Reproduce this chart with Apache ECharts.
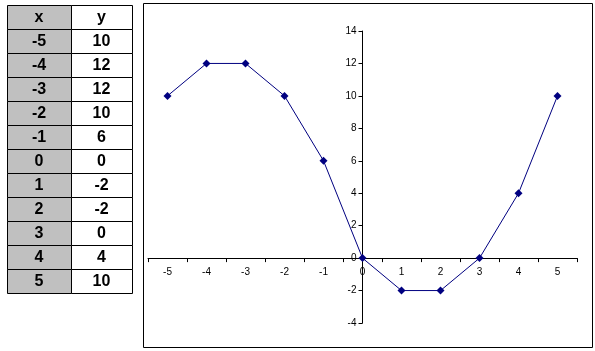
<!DOCTYPE html>
<html>
<head>
<meta charset="utf-8">
<script src="https://cdn.jsdelivr.net/npm/echarts@6/dist/echarts.min.js"></script>
<style>
html,body{margin:0;padding:0;background:#fff;}
#c{width:595px;height:351px;}
</style>
</head>
<body>
<div id="c"></div>
<script>
const xValues = ['-5','-4','-3','-2','-1','0','1','2','3','4','5'];
const yValues = [10, 12, 12, 10, 6, 0, -2, -2, 0, 4, 10];
const tableHeader = ['x', 'y'];
const yMin = -4, yMax = 14, yStep = 2;

const W = 595, H = 351;
const gridL = 148, gridR = 18, gridT = 31, gridB = 28;
const gridW = W - gridL - gridR, gridH = H - gridT - gridB;
// axes cross at x = 0 (category index of '0') and y = 0
const zeroIdx = xValues.indexOf('0');
const yAxisOffset = -gridW * (zeroIdx + 0.5) / xValues.length;
const xAxisOffset = -gridH * (0 - yMin) / (yMax - yMin);

const chart = echarts.init(document.getElementById('c'), null, {renderer: 'canvas'});

// table graphics
const tLeft = 7, tTop = 5, rowH = 24, colW1 = 64, colW2 = 61;
const gfx = [];
const rows = [tableHeader].concat(xValues.map((x, i) => [x, String(yValues[i])]));
const tFont = 'bold 16px "Liberation Sans", Arial, sans-serif';
rows.forEach((r, i) => {
  const y = tTop + i * rowH;
  gfx.push({type: 'rect', shape: {x: tLeft + 0.5, y: y + 0.5, width: colW1, height: rowH},
    style: {fill: '#c0c0c0', stroke: '#000', lineWidth: 1}, z: 10});
  gfx.push({type: 'rect', shape: {x: tLeft + colW1 + 0.5, y: y + 0.5, width: colW2, height: rowH},
    style: {fill: '#fff', stroke: '#000', lineWidth: 1}, z: 10});
  gfx.push({type: 'text', x: tLeft + colW1 / 2, y: y + rowH / 2 + 1, z: 11,
    style: {text: r[0], fill: '#000', font: tFont, align: 'center', verticalAlign: 'middle'}});
  gfx.push({type: 'text', x: tLeft + colW1 + colW2 / 2, y: y + rowH / 2 + 1, z: 11,
    style: {text: r[1], fill: '#000', font: tFont, align: 'center', verticalAlign: 'middle'}});
});
// chart frame
gfx.push({type: 'rect', shape: {x: 143.5, y: 3.5, width: 449, height: 344},
  style: {fill: 'none', stroke: '#000', lineWidth: 1}, z: 0});

const axisFont = {color: '#000', fontSize: 10, fontFamily: '"Liberation Sans", Arial, sans-serif'};

chart.setOption({
  animation: false,
  backgroundColor: '#fff',
  graphic: gfx,
  grid: {left: gridL, right: gridR, top: gridT, bottom: gridB, containLabel: false},
  xAxis: {
    type: 'category',
    data: xValues,
    boundaryGap: true,
    position: 'bottom',
    offset: xAxisOffset,
    axisLine: {onZero: false, lineStyle: {color: '#000', width: 1}},
    axisTick: {show: true, inside: false, length: 4, lineStyle: {color: '#000'}},
    axisLabel: Object.assign({margin: 9, interval: 0}, axisFont),
    splitLine: {show: false}
  },
  yAxis: {
    type: 'value',
    min: yMin, max: yMax, interval: yStep,
    position: 'left',
    offset: yAxisOffset,
    axisLine: {show: true, onZero: false, lineStyle: {color: '#000', width: 1}},
    axisTick: {show: true, inside: false, length: 4, lineStyle: {color: '#000'}},
    axisLabel: Object.assign({margin: 6}, axisFont),
    splitLine: {show: false}
  },
  series: [{
    type: 'line',
    data: yValues,
    symbol: 'diamond',
    symbolSize: 8,
    showAllSymbol: true,
    lineStyle: {color: '#000080', width: 1},
    itemStyle: {color: '#000080'},
    z: 5
  }]
});
</script>
</body>
</html>
